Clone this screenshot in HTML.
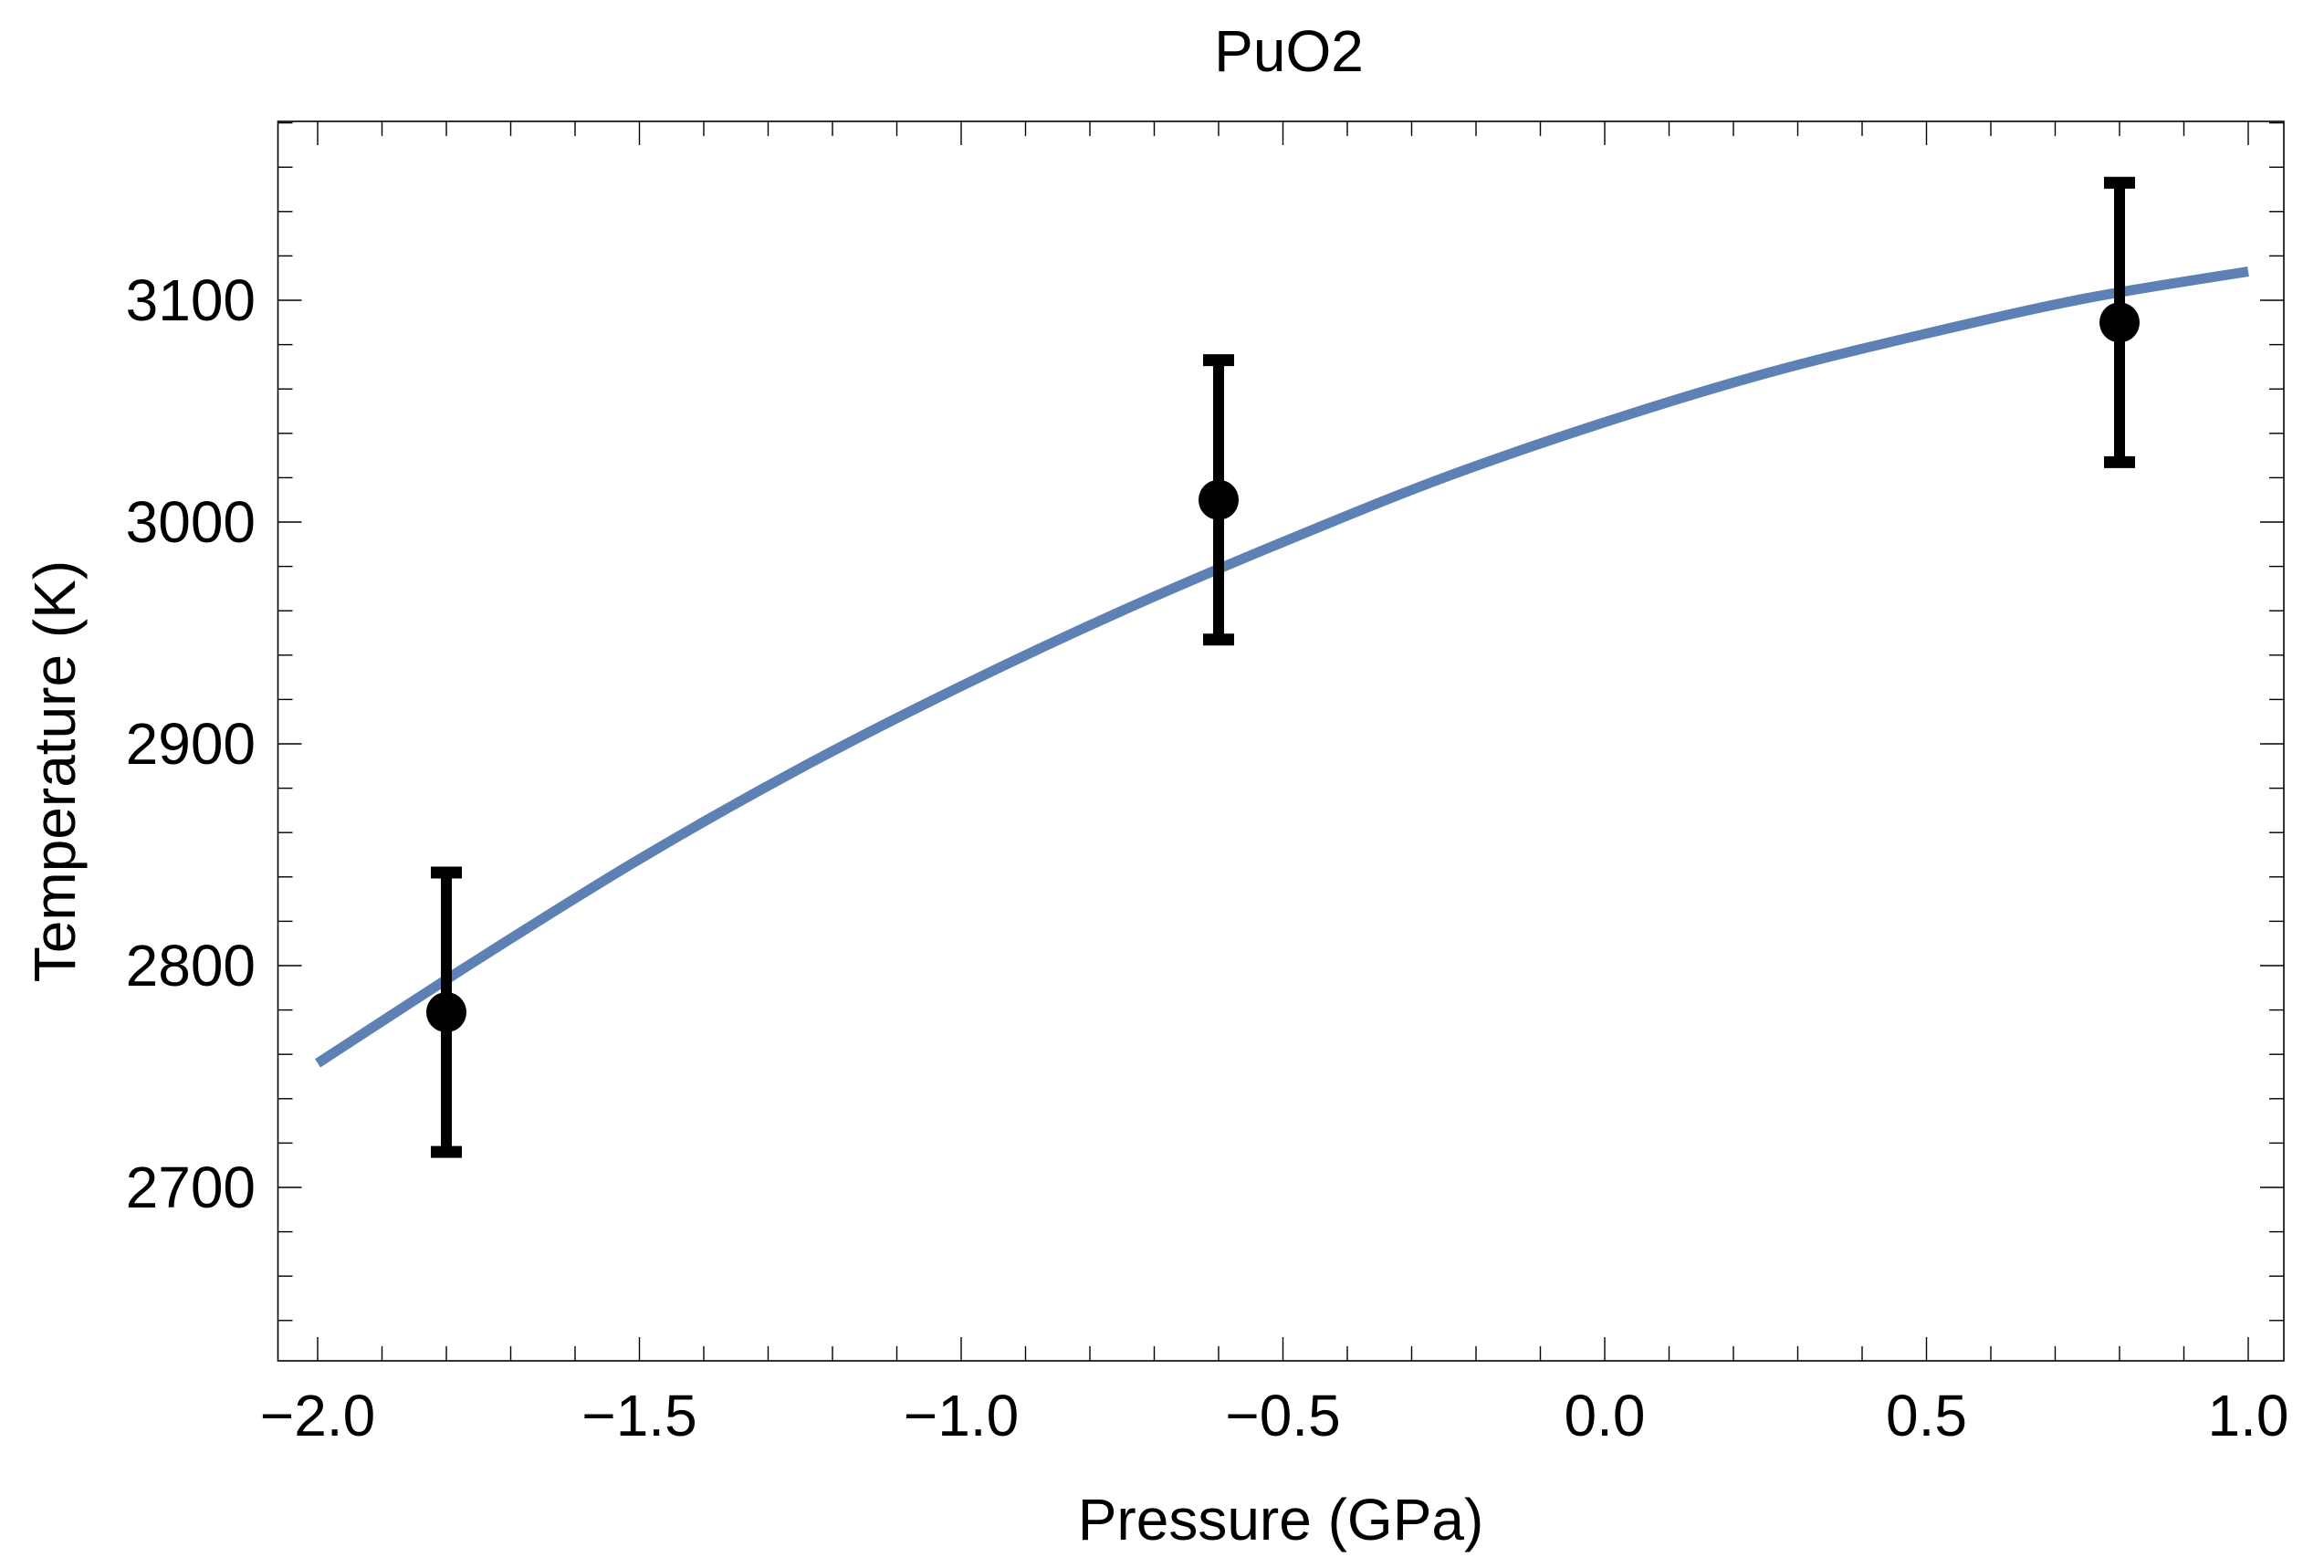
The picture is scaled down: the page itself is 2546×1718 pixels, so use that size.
<!DOCTYPE html>
<html><head><meta charset="utf-8"><style>
html,body{margin:0;padding:0;background:#fff;}
svg{display:block;font-family:"Liberation Sans",Arial,sans-serif;}
</style></head><body>
<svg id="chart" width="2546" height="1718" viewBox="0 0 2546 1718" xmlns="http://www.w3.org/2000/svg">
<text x="1412" y="78" font-size="64" text-anchor="middle">PuO2</text>
<text x="1403" y="1687" font-size="64" text-anchor="middle">Pressure (GPa)</text>
<text transform="translate(82,845) rotate(-90)" font-size="64" text-anchor="middle">Temperature (K)</text>
<g id="axes"></g>
<g id="curve-layer"></g>
<g id="points-layer"></g>
</svg>
<script>
const xTicks = [-2.0, -1.5, -1.0, -0.5, 0.0, 0.5, 1.0];
const xTickLabels = ["\u22122.0", "\u22121.5", "\u22121.0", "\u22120.5", "0.0", "0.5", "1.0"];
const yTicks = [2700, 2800, 2900, 3000, 3100];
const yTickLabels = ["2700", "2800", "2900", "3000", "3100"];
const pointX = [-1.8, -0.6, 0.8];
const pointY = [2779, 3010, 3090];
const pointErr = [63, 63, 63];
const curveX = [-2.0, -1.75, -1.5, -1.25, -1.0, -0.75, -0.5, -0.25, 0.0, 0.25, 0.5, 0.75, 1.0];
const curveY = [2756, 2803, 2848, 2889, 2926, 2960, 2991, 3020, 3045, 3067, 3085, 3101, 3113];

const NS = "http://www.w3.org/2000/svg";
const L = 304.5, R = 2502, T = 133, B = 1491;
function sx(v){ return 348 + (v + 2) * 705; }
function sy(v){ return 329 - (v - 3100) * 2.43; }
const xMin = (L - 348) / 705 - 2, xMax = (R - 348) / 705 - 2;
const yMin = 3100 - (B - 329) / 2.43, yMax = 3100 + (329 - T) / 2.43;
function mk(tag, attrs, parent){
  const e = document.createElementNS(NS, tag);
  for (const k in attrs) e.setAttribute(k, attrs[k]);
  parent.appendChild(e); return e;
}
const axes = document.getElementById('axes');
const frame = mk('rect', {x:L, y:T, width:R-L, height:B-T, fill:'none', stroke:'#000', 'stroke-width':1.6}, axes);


for (let i = Math.ceil(xMin*10); i <= Math.floor(xMax*10); i++){
  const v = i/10, major = (i % 5 === 0), len = major ? 26 : 16, x = sx(v);
  const t1 = mk('line', {x1:x, x2:x, y1:B, y2:B-len, stroke:'#000', 'stroke-width':1.4}, axes);
  
  
  const t2 = mk('line', {x1:x, x2:x, y1:T, y2:T+len, stroke:'#000', 'stroke-width':1.4}, axes);
  
  
}
xTicks.forEach((v, i) => {
  const t = mk('text', {x:sx(v), y:1573, 'font-size':64, 'text-anchor':'middle'}, axes);
  t.textContent = xTickLabels[i];
  
  
});
for (let i = Math.ceil(yMin/20); i <= Math.floor(yMax/20); i++){
  const v = i*20, major = (v % 100 === 0), len = major ? 26 : 16, y = sy(v);
  const t1 = mk('line', {x1:L, x2:L+len, y1:y, y2:y, stroke:'#000', 'stroke-width':1.4}, axes);
  
  
  const t2 = mk('line', {x1:R, x2:R-len, y1:y, y2:y, stroke:'#000', 'stroke-width':1.4}, axes);
  
  
}
yTicks.forEach((v, i) => {
  const t = mk('text', {x:280, y:sy(v)+22, 'font-size':64, 'text-anchor':'end'}, axes);
  t.textContent = yTickLabels[i];
  
  
});
const pts = curveX.map((v, i) => [sx(v), sy(curveY[i])]);
let d = 'M' + pts[0][0] + ',' + pts[0][1];
for (let i = 0; i < pts.length - 1; i++){
  const p0 = pts[i-1] || pts[i], p1 = pts[i], p2 = pts[i+1], p3 = pts[i+2] || p2;
  const c1 = [p1[0] + (p2[0]-p0[0])/6, p1[1] + (p2[1]-p0[1])/6];
  const c2 = [p2[0] - (p3[0]-p1[0])/6, p2[1] - (p3[1]-p1[1])/6];
  d += ' C' + c1[0] + ',' + c1[1] + ' ' + c2[0] + ',' + c2[1] + ' ' + p2[0] + ',' + p2[1];
}
const curve = mk('path', {d:d, fill:'none', stroke:'#5e81b5', 'stroke-width':11}, document.getElementById('curve-layer'));


const pl = document.getElementById('points-layer');
pointX.forEach((v, i) => {
  const x = sx(v), yc = sy(pointY[i]), yt = sy(pointY[i] + pointErr[i]), yb = sy(pointY[i] - pointErr[i]);
  const g = mk('g', {}, pl);
  
  
  const bar = mk('line', {x1:x, x2:x, y1:yt, y2:yb, stroke:'#000', 'stroke-width':12}, g);
  
  
  const c1 = mk('line', {x1:x-17, x2:x+17, y1:yt, y2:yt, stroke:'#000', 'stroke-width':13}, g);
  
  
  const c2 = mk('line', {x1:x-17, x2:x+17, y1:yb, y2:yb, stroke:'#000', 'stroke-width':13}, g);
  
  
  const dot = mk('circle', {cx:x, cy:yc, r:22, fill:'#000'}, g);
  
  
});
</script>
</body></html>
